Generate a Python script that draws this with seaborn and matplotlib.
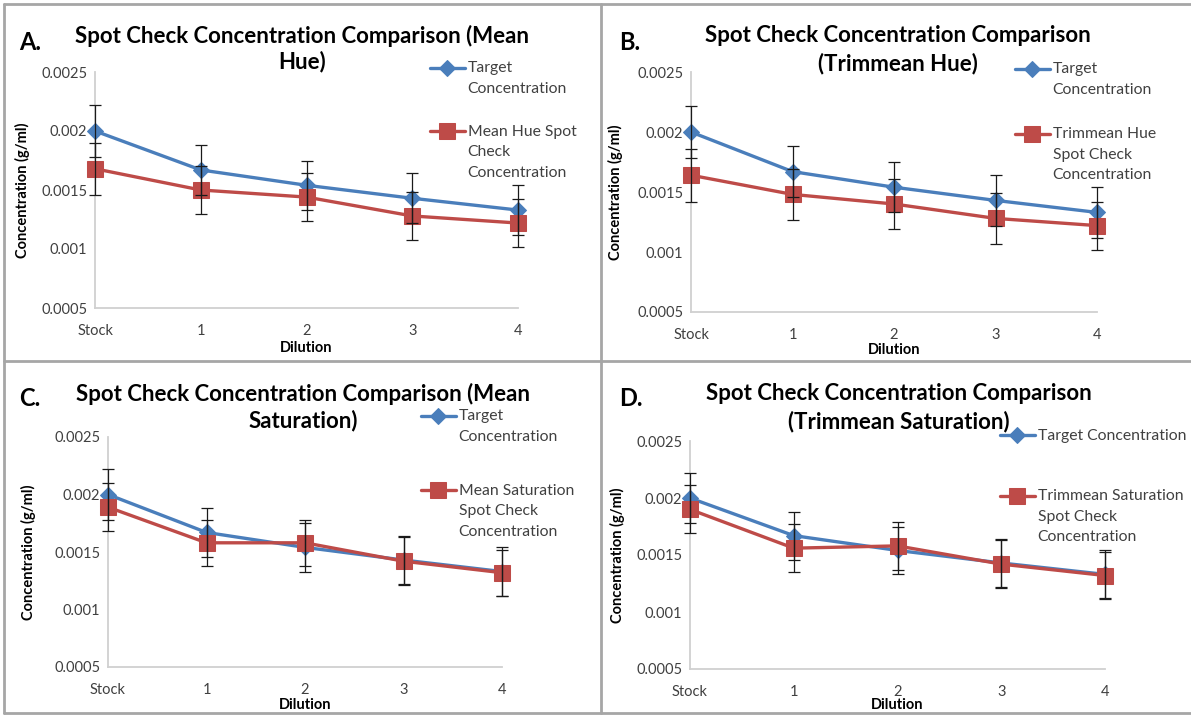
import matplotlib
matplotlib.use("Agg")
import matplotlib.pyplot as plt
import seaborn as sns
import pandas as pd
from matplotlib.legend_handler import HandlerLine2D
from matplotlib.lines import Line2D

# ---------------- data ----------------
categories = ["Stock", "1", "2", "3", "4"]
y_ticks = [0.0005, 0.001, 0.0015, 0.002, 0.0025]
y_tick_labels = ["0.0005", "0.001", "0.0015", "0.002", "0.0025"]

target = [0.00200, 0.00167, 0.00154, 0.00143, 0.00133]
target_err = [0.00022, 0.00021, 0.00021, 0.00021, 0.00021]

mean_hue = [0.00168, 0.00150, 0.00144, 0.00128, 0.00122]
mean_hue_err = [0.00022, 0.00020, 0.00020, 0.00020, 0.00020]

trim_hue = [0.00164, 0.00148, 0.00140, 0.00128, 0.00122]
trim_hue_err = [0.00022, 0.00021, 0.00021, 0.00021, 0.00020]

mean_sat = [0.00189, 0.00158, 0.00158, 0.00142, 0.00132]
mean_sat_err = [0.00021, 0.00020, 0.00020, 0.00021, 0.00020]

trim_sat = [0.00190, 0.00156, 0.00158, 0.00142, 0.00132]
trim_sat_err = [0.00021, 0.00021, 0.00021, 0.00021, 0.00021]

panel_letters = ["A.", "B.", "C.", "D."]
titles = [
    "Spot Check Concentration Comparison (Mean\nHue)",
    "Spot Check Concentration Comparison\n(Trimmean Hue)",
    "Spot Check Concentration Comparison (Mean\nSaturation)",
    "Spot Check Concentration Comparison\n(Trimmean Saturation)",
]
target_labels = ["Target\nConcentration", "Target\nConcentration",
                 "Target\nConcentration", "Target Concentration"]
spot_labels = ["Mean Hue Spot\nCheck\nConcentration",
               "Trimmean Hue\nSpot Check\nConcentration",
               "Mean Saturation\nSpot Check\nConcentration",
               "Trimmean Saturation\nSpot Check\nConcentration"]
spot_values = [mean_hue, trim_hue, mean_sat, trim_sat]
spot_errors = [mean_hue_err, trim_hue_err, mean_sat_err, trim_sat_err]
x_label = "Dilution"
y_label = "Concentration (g/ml)"

# ---------------- style ----------------
sns.set_style("white")
FONT = ["Lato", "DejaVu Sans"]
plt.rcParams["font.family"] = FONT

W, H = 1191, 715
fig = plt.figure(figsize=(W / 100, H / 100), dpi=100)


def fx(px):
    return px / W


def fy(py):
    return 1 - py / H


BLUE = "#4A7EBB"
RED = "#BE4B48"
AXC = "#d0d0d0"
TXT = "#404040"

LEG_FS = 11.3
LEG_LS = 1.6
STEP_PT = 21 * 0.72  # distance between legend text lines, in points


class FirstLineHandler(HandlerLine2D):
    """Put the legend sample next to the first line of a multi-line label."""

    def __init__(self, shift, **kw):
        super().__init__(**kw)
        self.shift = shift

    def create_artists(self, legend, orig_handle, xdescent, ydescent,
                       width, height, fontsize, trans):
        arts = super().create_artists(legend, orig_handle, xdescent, ydescent,
                                      width, height, fontsize, trans)
        for a in arts:
            a.set_ydata([v + self.shift for v in a.get_ydata()])
        return arts


# pixel layout: (x0, x1, y_top, y_bottom)
axes_px = [(95, 518, 72, 308), (691, 1097, 72, 312),
           (108, 502, 437, 667), (690, 1105, 441, 669)]
title_px = [(302, 36, 62), (898, 36, 64), (303, 394, 421), (899, 394, 422)]
letter_px = [(19, 43), (619, 43), (19, 399), (619, 399)]
legend_px = [(430, 61), (1015, 62), (421, 409), (1000, 429)]
legend_gap = [1.85, 1.95, 2.55, 2.95]
ylab_x = [22, 615, 28, 617]
xlab_y = [348, 350, 705, 705]

for i in range(4):
    x0, x1, yt, yb = axes_px[i]
    ax = fig.add_axes([fx(x0), fy(yb), (x1 - x0) / W, (yb - yt) / H])
    xs = list(range(len(categories)))
    df_t = pd.DataFrame({"x": xs, "y": target})
    df_s = pd.DataFrame({"x": xs, "y": spot_values[i]})

    sns.lineplot(data=df_t, x="x", y="y", ax=ax, color=BLUE, lw=2.4,
                 marker="D", markersize=8, markeredgecolor=BLUE,
                 clip_on=False, zorder=3, legend=False)
    h_t = ax.lines[-1]
    sns.lineplot(data=df_s, x="x", y="y", ax=ax, color=RED, lw=2.4,
                 marker="s", markersize=12, markeredgecolor=RED,
                 clip_on=False, zorder=4, legend=False)
    h_s = ax.lines[-1]

    for vals, errs in ((target, target_err), (spot_values[i], spot_errors[i])):
        eb = ax.errorbar(xs, vals, yerr=errs, fmt="none", ecolor="#1a1a1a",
                         elinewidth=0.9, capsize=4, capthick=0.9, zorder=5)
        for art in list(eb.lines[1]) + list(eb.lines[2]):
            art.set_clip_on(False)

    ax.set_xlim(0, 4)
    ax.set_ylim(0.0005, 0.0025)
    ax.set_xticks(xs)
    ax.set_xticklabels(categories)
    ax.set_yticks(y_ticks)
    ax.set_yticklabels(y_tick_labels)
    for s in ("top", "right"):
        ax.spines[s].set_visible(False)
    for s in ("left", "bottom"):
        ax.spines[s].set_color(AXC)
        ax.spines[s].set_linewidth(1.3)
    ax.tick_params(axis="both", which="both", direction="out", length=3.5,
                   width=1.2, color=AXC, labelsize=10.5, labelcolor=TXT)
    ax.tick_params(axis="y", pad=2)
    ax.tick_params(axis="x", pad=8)
    ax.set_xlabel("")
    ax.set_ylabel("")
    ax.patch.set_alpha(0)

    # axis labels
    ycen = (yt + yb) / 2
    fig.text(fx(ylab_x[i]), fy(ycen), y_label, rotation=90, ha="center",
             va="center", fontsize=10.5, fontweight="bold", color="black")
    fig.text(fx((x0 + x1) / 2), fy(xlab_y[i]), x_label, ha="center",
             va="center", fontsize=10.5, fontweight="bold", color="black")

    # title (two lines) and panel letter
    tx, ty1, ty2 = title_px[i]
    for line, ty in zip(titles[i].split("\n"), (ty1, ty2)):
        fig.text(fx(tx), fy(ty), line, ha="center", va="center",
                 fontsize=16, fontweight="bold", color="black")
    lx, ly = letter_px[i]
    fig.text(fx(lx), fy(ly), panel_letters[i], ha="left", va="center",
             fontsize=17, fontweight="bold", color="black")

    # legend with sample on the first line of each label
    labels = [target_labels[i], spot_labels[i]]
    hmap = {}
    for h, lab in zip((h_t, h_s), labels):
        n = lab.count("\n")
        hmap[h] = FirstLineHandler(n * STEP_PT / 2.0)
    lpx, lpy = legend_px[i]
    leg = ax.legend([h_t, h_s], labels, handler_map=hmap,
                    loc="upper left", bbox_to_anchor=(fx(lpx), fy(lpy)),
                    bbox_transform=fig.transFigure, frameon=False,
                    fontsize=LEG_FS, handlelength=2.2, handletextpad=0.2,
                    borderpad=0, borderaxespad=0, labelspacing=legend_gap[i],
                    numpoints=1)
    for t in leg.get_texts():
        t.set_color(TXT)
        t.set_linespacing(LEG_LS)

# panel borders
BC = "#a6a6a6"
for xs_, ys_ in (([fx(601), fx(601)], [fy(4), fy(713)]),
                 ([fx(4), fx(1191)], [fy(361), fy(361)]),
                 ([fx(4), fx(1191)], [fy(4), fy(4)]),
                 ([fx(4), fx(4)], [fy(4), fy(713)]),
                 ([fx(4), fx(1191)], [fy(713), fy(713)])):
    fig.add_artist(Line2D(xs_, ys_, transform=fig.transFigure, color=BC, lw=2))

fig.savefig("out.png", dpi=100)
